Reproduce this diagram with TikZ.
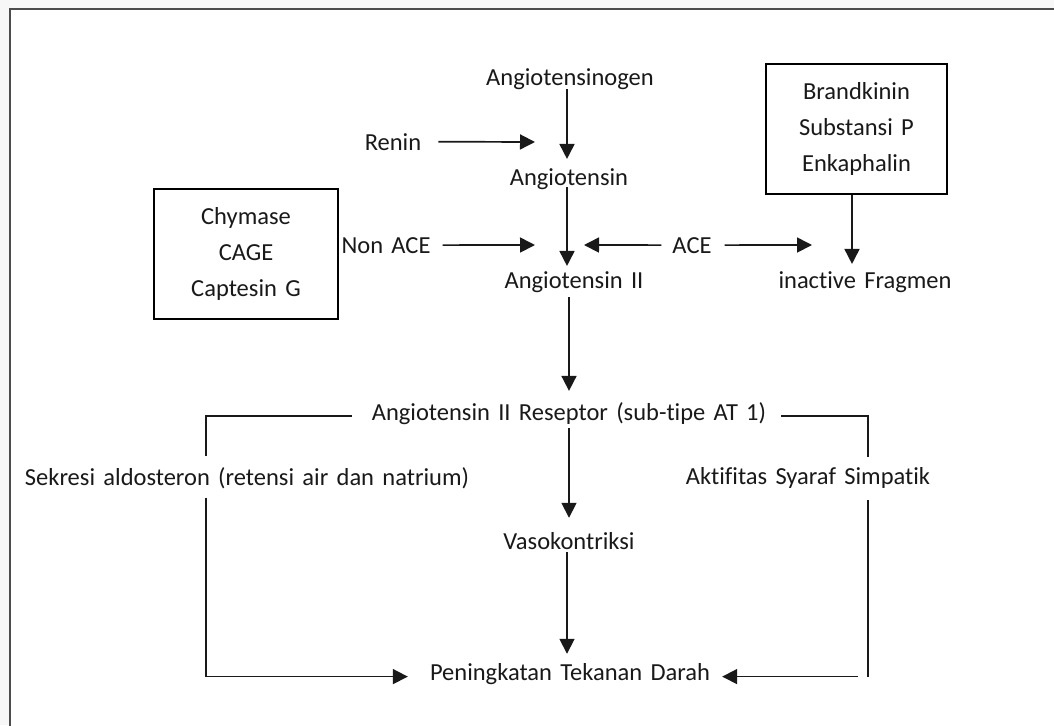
\documentclass[tikz,border=0pt]{standalone}
\usepackage{fontspec}
\setmainfont{Carlito}[Ligatures=NoCommon, WordSpace=1.5]
\usetikzlibrary{arrows.meta}
\begin{document}
\begin{tikzpicture}[x=1pt,y=-1pt,
  txt/.style={inner sep=0pt, anchor=base, font=\fontsize{24.5}{36}\selectfont, text=black!90},
  boxn/.style={draw, line width=1.7pt, inner sep=0pt, align=center, font=\fontsize{24.5}{36}\selectfont, text=black!90},
  ln/.style={line width=1.7pt, black!90},
  arr/.style={ln, -{Triangle[length=15pt,width=15pt]}}]
\useasboundingbox (0,0) rectangle (1054,725);
\fill[gray!6] (0,0) rectangle (1054,725);
\fill[white] (10,9) rectangle (1054,725);
\draw[gray!60!black, line width=1.2pt] (10,730) -- (10,9) -- (1060,9);

% nodes
\node[txt] (ago) at (570,85) {Angiotensinogen};
\node[txt] (renin) at (393,150) {Renin};
\node[txt] (ag) at (569,185) {Angiotensin};
\node[txt] (nonace) at (386,253) {Non ACE};
\node[txt] (ace) at (692,253) {ACE};
\node[txt] (ag2) at (574,288) {Angiotensin II};
\node[txt] (frag) at (865,288) {inactive Fragmen};
\node[boxn, minimum width=181pt, minimum height=130pt] (bbox) at (856.5,129) {Brandkinin\\Substansi P\\Enkaphalin};
\node[boxn, minimum width=184pt, minimum height=130pt] (cbox) at (246,254) {Chymase\\CAGE\\Captesin G};
\node[txt] (rec) at (569,420) {Angiotensin II Reseptor (sub-tipe AT 1)};
\node[txt] (sek) at (247,485) {Sekresi aldosteron (retensi air dan natrium)};
\node[txt] (akt) at (808,484) {Aktifitas Syaraf Simpatik};
\node[txt] (vaso) at (569,549) {Vasokontriksi};
\node[txt] (pen) at (570,680) {Peningkatan Tekanan Darah};

\coordinate (rtip) at (535,142);
\coordinate (natip) at (535,245);
\coordinate (acel) at (584,245);
\coordinate (acer) at (812,245);
\coordinate (lx) at (206,0);
\coordinate (rx) at (868,0);

% vertical chain
\draw[arr, shorten >=9pt] (ago.south -| 567,0) -- (ag.north -| 567,0);
\draw[arr, shorten <=-2pt, shorten >=5pt] (ag.south -| 567,0) -- (ag2.north -| 567,0);
\draw[arr, shorten <=5pt, shorten >=11pt] (ag2.south -| 569,0) -- (rec.north -| 569,0);
\draw[arr, shorten <=4pt, shorten >=14pt] (rec.south -| 569,0) -- (vaso.north -| 569,0);
\draw[arr, shorten <=3pt, shorten >=9pt] (vaso.south -| 567,0) -- (pen.north -| 567,0);

% horizontal arrows
\draw[arr, shorten <=17pt] (renin.east) -- (rtip);
\draw[arr, shorten <=12pt] (nonace.east) -- (natip);
\draw[arr, shorten <=11pt] (ace.west) -- (acel);
\draw[arr, shorten <=13pt] (ace.east) -- (acer);
\draw[arr, shorten >=7pt] (bbox.south -| 852,0) -- (frag.north -| 852,0);

% left branch
\draw[ln, shorten <=20pt, shorten >=11pt] ([yshift=-3pt]rec.west) -| (lx |- sek.north);
\draw[arr, shorten <=9pt, shorten >=22pt] (lx |- sek.south) |- ([yshift=-3pt]pen.west);

% right branch
\draw[ln, shorten <=15pt, shorten >=10pt] ([yshift=-3pt]rec.east) -| (rx |- akt.north);
\draw[ln, shorten <=12pt] (rx |- akt.south) -- ([yshift=-3pt]rx |- pen.east);
\draw[arr, shorten >=12pt] ([xshift=-10pt,yshift=-3pt]rx |- pen.east) -- ([yshift=-3pt]pen.east);
\end{tikzpicture}
\end{document}
